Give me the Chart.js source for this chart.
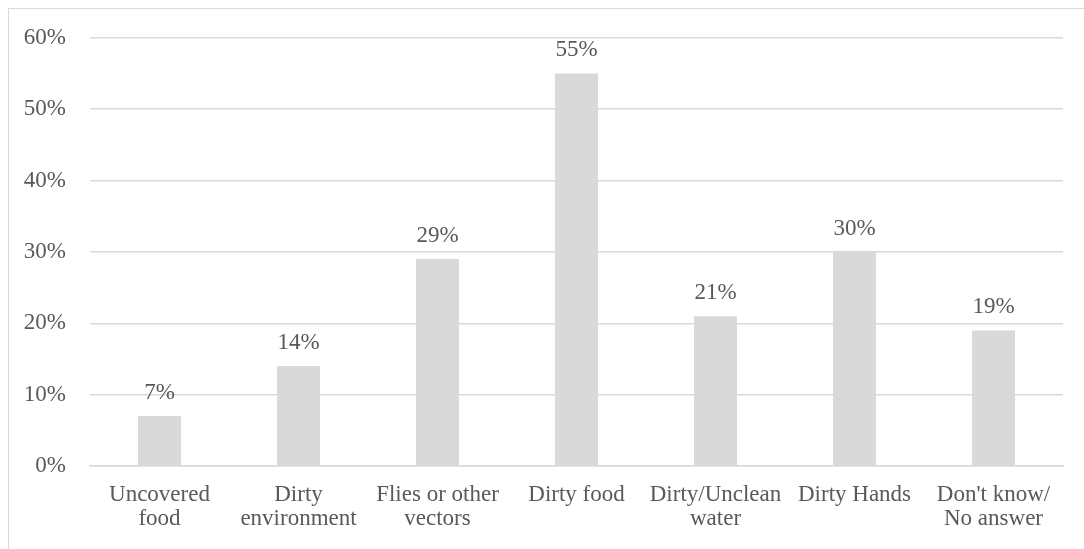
<!DOCTYPE html>
<html>
<head>
<meta charset="utf-8">
<script src="https://cdn.jsdelivr.net/npm/chart.js@4.4.0/dist/chart.umd.min.js"></script>
<style>
  html, body { margin: 0; padding: 0; background: #ffffff; }
  #wrap { position: relative; width: 1084px; height: 549px; overflow: hidden; }
  #frame { position: absolute; left: 8px; top: 8px; width: 1200px; height: 700px;
           border-left: 1px solid #d9d9d9; border-top: 1px solid #d9d9d9; box-sizing: border-box; }
  #c { position: absolute; left: 0; top: 0; }
</style>
</head>
<body>
<div id="wrap">
  <div id="frame"></div>
  <canvas id="c" width="1084" height="549"></canvas>
</div>
<script>
const categories = [
  ["Uncovered", "food"],
  ["Dirty", "environment"],
  ["Flies or other", "vectors"],
  ["Dirty food"],
  ["Dirty/Unclean", "water"],
  ["Dirty Hands"],
  ["Don't know/", "No answer"]
];
const values = [0.07, 0.14, 0.29, 0.55, 0.21, 0.30, 0.19];
const valueLabels = ["7%", "14%", "29%", "55%", "21%", "30%", "19%"];
const yTicks = [0, 0.1, 0.2, 0.3, 0.4, 0.5, 0.6];

const FONT = "'Liberation Serif', 'Times New Roman', serif";
const TEXT = "#595959";
const FS = 23;

const labelPlugin = {
  id: 'valueLabels',
  afterDatasetsDraw(chart) {
    const ctx = chart.ctx;
    const meta = chart.getDatasetMeta(0);
    ctx.save();
    ctx.font = FS + "px " + FONT;
    ctx.fillStyle = TEXT;
    ctx.textAlign = 'center';
    ctx.textBaseline = 'alphabetic';
    meta.data.forEach((bar, i) => {
      ctx.fillText(valueLabels[i], bar.x, bar.y - 17);
    });
    ctx.restore();
  }
};

new Chart(document.getElementById('c'), {
  type: 'bar',
  data: {
    labels: categories,
    datasets: [{
      data: values,
      backgroundColor: '#d9d9d9',
      borderWidth: 0,
      categoryPercentage: 1.0,
      barPercentage: 0.31
    }]
  },
  options: {
    responsive: false,
    animation: false,
    devicePixelRatio: 1,
    layout: { padding: { left: 0, right: 21, top: 37, bottom: 0 } },
    plugins: { legend: { display: false }, tooltip: { enabled: false } },
    scales: {
      x: {
        grid: { display: false },
        border: { display: true, color: '#d9d9d9', width: 1.5 },
        ticks: {
          color: TEXT,
          font: { family: FONT, size: FS, lineHeight: '24px' },
          padding: 9,
          maxRotation: 0,
          autoSkip: false
        },
        afterFit(scale) { scale.height = 83; }
      },
      y: {
        min: 0,
        max: 0.6,
        afterBuildTicks(scale) { scale.ticks = yTicks.map(v => ({ value: v })); },
        grid: { color: '#d9d9d9', lineWidth: 1.5, drawTicks: false },
        border: { display: false },
        ticks: {
          color: TEXT,
          font: { family: FONT, size: FS },
          padding: 24,
          callback: v => Math.round(v * 100) + '%'
        },
        afterFit(scale) { scale.width = 90; }
      }
    }
  },
  plugins: [labelPlugin]
});
</script>
</body>
</html>
